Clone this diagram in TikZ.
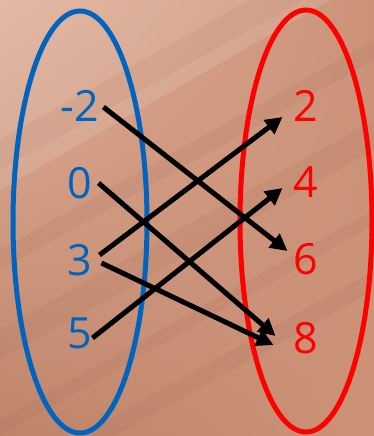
\documentclass[tikz,border=0pt]{standalone}
\usepackage{fontspec}
\setmainfont{Open Sans}
\usetikzlibrary{calc, arrows.meta, shadings}

\definecolor{setblue}{RGB}{0,100,190}
\definecolor{setred}{RGB}{255,0,0}
\definecolor{woodlight}{RGB}{224,176,152}
\definecolor{woodmid}{RGB}{203,146,120}
\definecolor{wooddark}{RGB}{190,132,106}
\definecolor{woodgrain}{RGB}{170,110,88}

\tikzset{
  num/.style={inner sep=0pt, font=\fontsize{43}{43}\selectfont},
  arr/.style={black, line width=5pt, -{Triangle[length=17pt, width=17pt]}},
  grain/.style={woodgrain, opacity=0.15},
}

\begin{document}
\begin{tikzpicture}[x=1pt, y=-1pt]
  \useasboundingbox (0,0) rectangle (374,436);
  % 木纹背景
  \shade[upper left=woodlight, upper right=woodmid, lower left=wooddark, lower right=woodmid]
    (0,0) rectangle (374,436);
  \fill[grain] (0,140) -- (374,-70) -- (374,-40) -- (0,170) -- cycle;
  \fill[grain] (0,250) -- (374,40) -- (374,60) -- (0,270) -- cycle;
  \fill[grain] (0,330) -- (374,120) -- (374,150) -- (0,360) -- cycle;
  \fill[grain] (0,420) -- (374,210) -- (374,225) -- (0,435) -- cycle;
  \fill[grain] (80,436) -- (374,270) -- (374,290) -- (115,436) -- cycle;
  \fill[white, opacity=0.12] (0,0) -- (330,0) -- (0,190) -- cycle;
  % 集合
  \draw[setblue, line width=5pt] (80,222) ellipse (67 and 211);
  \draw[setred, line width=5pt] (306,221) ellipse (66 and 211);
  % 左边的数
  \node[num, setblue] (Lm2) at (80,106) {-2};
  \node[num, setblue] (L0) at (80,183) {0};
  \node[num, setblue] (L3) at (80,260) {3};
  \node[num, setblue] (L5) at (80,333) {5};
  % 右边的数
  \node[num, setred] (R2) at (306,106) {2};
  \node[num, setred] (R4) at (306,182) {4};
  \node[num, setred] (R6) at (306,259) {6};
  \node[num, setred] (R8) at (306,338) {8};
  % 映射
  \draw[arr] ([shift={(4,1)}]Lm2.east) -- ([shift={(-6,-8)}]R6.west);
  \draw[arr] ([shift={(6,0)}]L0.east) -- ([shift={(-18,-2)}]R8.west);
  \draw[arr] ([shift={(7,-5)}]L3.east) -- ([shift={(-11,11)}]R2.west);
  \draw[arr] ([shift={(9,3)}]L3.east) -- ([shift={(-20,7)}]R8.west);
  \draw[arr] ([shift={(0,5)}]L5.east) -- ([shift={(-11,6)}]R4.west);
\end{tikzpicture}
\end{document}
